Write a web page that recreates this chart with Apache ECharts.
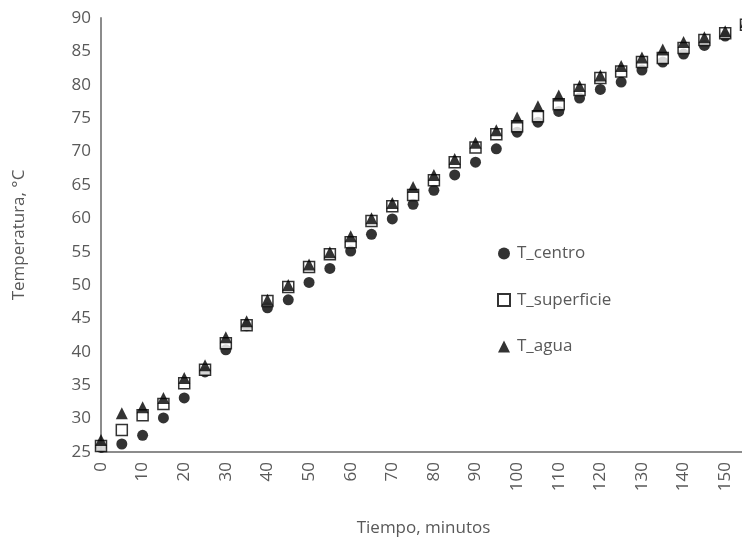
<!DOCTYPE html>
<html>
<head>
<meta charset="utf-8">
<script src="https://cdn.jsdelivr.net/npm/echarts@6/dist/echarts.min.js"></script>
<style>html,body{margin:0;padding:0;background:#fff}#c{width:742px;height:543px}</style>
</head>
<body>
<div id="c"></div>
<script>
var tiempo = [0,5,10,15,20,25,30,35,40,45,50,55,60,65,70,75,80,85,90,95,100,105,110,115,120,125,130,135,140,145,150,155];
var tCentro = [25.7,26.2,27.5,30.1,33.1,37.0,40.3,43.9,46.6,47.8,50.4,52.5,55.1,57.6,59.9,62.1,64.2,66.5,68.4,70.4,72.9,74.4,76.0,78.0,79.3,80.4,82.2,83.4,84.6,85.9,87.3,89.1];
var tSuperficie = [25.9,28.3,30.5,32.2,35.3,37.3,41.3,44.0,47.6,49.7,52.7,54.6,56.4,59.6,61.8,63.5,65.7,68.4,70.6,72.6,73.8,75.3,77.1,79.2,81.0,82.0,83.4,84.0,85.5,86.7,87.7,89.0];
var tAgua = [26.8,30.8,31.7,33.1,36.1,38.0,42.2,44.6,47.8,50.0,53.1,54.9,57.3,60.0,62.3,64.7,66.5,68.9,71.3,73.2,75.1,76.8,78.4,79.8,81.4,82.8,84.1,85.3,86.4,87.1,88.0,89.4];
var names = ['T_centro','T_superficie','T_agua'];

function pairs(arr){ return tiempo.map(function(t,i){ return [t, arr[i]]; }); }

var font = '"Open Sans", "Liberation Sans", sans-serif';
var txt = '#595959';
var chart = echarts.init(document.getElementById('c'));
chart.setOption({
  animation: false,
  backgroundColor: '#fff',
  grid: { left: 101, right: -4, top: 18, bottom: 91, containLabel: false, outerBoundsMode: 'none' },
  legend: {
    orient: 'vertical', left: 492, top: 240, itemGap: 29.5, itemWidth: 12, itemHeight: 12,
    textStyle: { color: txt, fontSize: 17, fontFamily: font, padding: [0, 0, 0, 2] },
    data: [
      { name: names[0], icon: 'circle' },
      { name: names[1], icon: 'rect' },
      { name: names[2], icon: 'triangle' }
    ]
  },
  xAxis: {
    type: 'value', min: 0, max: 155, interval: 10,
    name: 'Tiempo, minutos', nameLocation: 'middle', nameGap: 68,
    nameTextStyle: { color: txt, fontSize: 17, fontFamily: font },
    axisLine: { lineStyle: { color: '#8c8c8c', width: 2 } },
    axisTick: { show: false }, splitLine: { show: false },
    axisLabel: { rotate: 90, color: txt, fontSize: 17, fontFamily: font, margin: 10, showMaxLabel: false,
      formatter: function(v){ return v <= 150 ? String(v) : ''; } }
  },
  yAxis: {
    type: 'value', min: 25, max: 90, interval: 5,
    name: 'Temperatura, °C', nameLocation: 'middle', nameGap: 73, nameRotate: 90,
    nameTextStyle: { color: txt, fontSize: 17, fontFamily: font },
    axisLine: { show: true, lineStyle: { color: '#8c8c8c', width: 2 } },
    axisTick: { show: false }, splitLine: { show: false },
    axisLabel: { color: txt, fontSize: 17, fontFamily: font, margin: 10 }
  },
  series: [
    { name: names[0], type: 'scatter', symbol: 'circle', symbolSize: 11, clip: false,
      itemStyle: { color: '#000' }, data: pairs(tCentro) },
    { name: names[1], type: 'scatter', symbol: 'rect', symbolSize: 11, clip: false,
      itemStyle: { color: '#fff', borderColor: '#000', borderWidth: 1.5 }, data: pairs(tSuperficie) },
    { name: names[2], type: 'scatter', symbol: 'triangle', symbolSize: 12, clip: false,
      itemStyle: { color: '#000' }, data: pairs(tAgua) }
  ]
});
</script>
</body>
</html>
